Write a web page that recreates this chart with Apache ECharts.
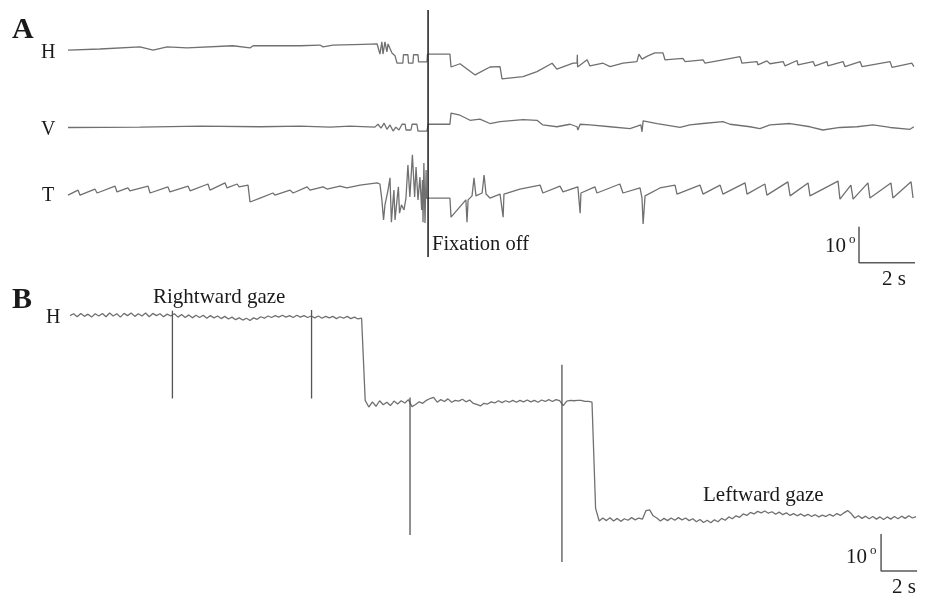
<!DOCTYPE html>
<html>
<head>
<meta charset="utf-8">
<script src="https://cdn.jsdelivr.net/npm/echarts@6/dist/echarts.min.js"></script>
<style>
  html, body { margin: 0; background: #fff; }
  #chart { width: 925px; height: 596px; }
</style>
</head>
<body>
<div id="chart"></div>
<script>
// ---- panel A: [time s, position deg] around each channel's own level
const hA = [[0,-0.6],[1.14,-0.3],[2.57,0.3],[3.04,-0.6],[3.54,0.3],[4.25,0],[5.89,0.6],[6.5,0],[6.61,0.6],[8.29,0.6],
  [9.0,0.8],[9.11,0.3],[9.46,0.8],[10.54,1.0],[11.04,1.1],[11.14,-1.7],[11.21,1.7],[11.25,-1.7],[11.32,1.7],[11.39,-1.1],
  [11.43,1.1],[11.57,-1.4],[11.68,-2.2],[11.75,-4.2],[11.96,-4.2],[11.98,-1.9],[12.14,-1.9],[12.16,-4.2],[12.32,-4.2],[12.34,-1.9],
  [12.5,-1.9],[12.52,-3.9],[12.82,-3.9],[12.84,-1.7],[13.64,-1.7],[13.68,-5.3],[14.0,-4.4],[14.54,-7.5],[15.07,-5.3],[15.43,-5.2],
  [15.5,-8.6],[16.25,-8.0],[16.75,-6.6],[17.29,-4.25],[17.46,-5.9],[18.04,-4.25],[18.18,-4.2],[18.19,-1.9],[18.2,-5.3],[18.54,-3.3],
  [18.64,-5.0],[19.11,-4.25],[19.36,-5.2],[19.82,-4.25],[20.32,-3.8],[20.39,-1.7],[20.46,-1.7],[20.5,-3.1],[20.71,-2.2],[20.96,-1.4],
  [21.25,-1.4],[21.32,-3.3],[21.96,-2.9],[22.04,-3.8],[22.68,-3.3],[22.75,-4.25],[23.39,-3.3],[24.0,-2.4],[24.07,-4.25],[24.61,-3.8],
  [24.64,-4.7],[24.96,-3.6],[25.07,-4.4],[25.54,-3.8],[25.61,-5.0],[26.04,-3.5],[26.07,-4.7],[26.61,-3.8],[26.68,-5.0],[27.11,-3.8],
  [27.14,-5.0],[27.68,-3.8],[27.75,-5.2],[28.29,-3.8],[28.36,-5.2],[29.36,-3.8],[29.43,-5.4],[30.14,-4.25],[30.21,-5.2]];

const vA = [[0,-0.1],[2.57,0],[4.71,0.3],[6.86,0.1],[8.29,0.3],[9.36,0],[10.07,0.3],[10.96,0],[11.07,0.8],[11.18,-0.3],
  [11.29,1.1],[11.39,-0.6],[11.5,0.6],[11.61,-1.1],[11.71,0],[11.82,-0.8],[11.93,0.8],[12.04,0.8],[12.07,-0.8],[12.25,-0.8],
  [12.29,0.8],[12.46,0.8],[12.5,-1.1],[12.82,-1.1],[12.86,0.8],[13.64,0.8],[13.68,3.9],[14.0,3.3],[14.36,1.9],[14.71,2.2],
  [15.07,1.0],[15.43,1.5],[16.25,2.1],[16.75,1.9],[16.96,0.6],[17.46,0.1],[17.93,0.8],[18.18,0.1],[18.21,-0.8],[18.29,0.8],
  [18.64,0.6],[19.36,0.1],[20.07,-0.4],[20.46,0.6],[20.5,-1.3],[20.54,1.75],[21.04,1.0],[21.86,-0.1],[22.21,0.6],[22.68,1.0],
  [23.39,1.5],[23.64,0.8],[24.36,0.1],[24.71,-0.4],[25.07,0.6],[25.79,1.0],[26.5,0.1],[26.96,-0.8],[27.57,-0.1],[28.18,0.1],
  [28.75,0.6],[29.36,-0.1],[30.07,-0.6],[30.21,0.1]];

const tA = [[0,-0.6],[0.36,0.8],[0.43,-0.6],[0.96,1.1],[1.04,0],[1.68,1.9],[1.75,0.3],[2.14,1.4],[2.21,0.6],[2.86,1.9],
  [2.93,0],[3.57,1.7],[3.64,0.3],[4.29,1.9],[4.36,0.6],[5.0,2.5],[5.07,0.8],[5.61,2.8],[5.68,1.4],[6.04,2.5],
  [6.11,1.7],[6.43,2.2],[6.5,-2.5],[6.86,-1.4],[7.32,0],[7.39,-0.6],[7.93,0.8],[8.04,0],[8.54,1.7],[8.64,0.8],
  [9.11,1.7],[9.25,1.1],[9.71,1.9],[9.96,1.4],[10.43,2.2],[10.5,1.7],[11.04,2.8],[11.14,2.5],[11.21,-1.9],[11.27,-7.5],
  [11.32,-3.3],[11.43,0.8],[11.5,4.2],[11.55,-8.1],[11.61,-1.9],[11.64,0.8],[11.68,-7.5],[11.75,-1.9],[11.8,1.7],[11.84,-5.6],
  [11.91,-3.3],[12.0,-4.7],[12.07,-1.4],[12.14,7.8],[12.21,-1.1],[12.3,10.6],[12.38,-1.1],[12.43,7.2],[12.5,-1.9],[12.57,4.4],
  [12.63,-4.7],[12.66,3.6],[12.68,-8.1],[12.71,8.3],[12.75,-8.3],[12.79,6.4],[12.8,-1.4],[13.64,-1.4],[13.68,-6.7],[14.21,-1.9],
  [14.25,-8.1],[14.29,-1.9],[14.43,-0.8],[14.5,4.2],[14.57,-0.8],[14.79,0],[14.86,5.0],[14.93,-0.3],[15.07,-1.4],[15.43,-0.3],
  [15.5,-0.3],[15.54,-6.7],[15.57,-0.3],[16.14,1.1],[16.86,2.2],[16.96,0],[17.57,1.9],[17.68,0.3],[18.21,1.7],[18.29,-5.6],
  [18.32,0],[18.82,1.7],[18.89,0],[19.71,2.5],[19.82,0],[20.43,1.4],[20.5,-1.4],[20.54,-8.6],[20.61,-0.8],[21.14,1.4],
  [21.68,2.2],[21.75,-0.3],[22.57,2.2],[22.68,-0.3],[23.29,2.2],[23.39,-0.3],[24.18,2.8],[24.25,-0.3],[24.89,2.5],[24.96,-0.6],
  [25.71,3.1],[25.79,-0.8],[26.43,2.8],[26.5,-0.8],[27.5,3.3],[27.57,-1.7],[27.96,2.2],[28.04,-1.7],[28.57,2.8],[28.64,-1.4],
  [29.39,2.8],[29.46,-1.4],[30.11,3.1],[30.18,-1.4]];

const fixationOff = 12.86; // s

// ---- panel B: horizontal position (deg), one sample every 0.2 s
const bStep = 0.2;
const bH = [
  0.1,0.6,-0.2,0.7,-0.1,0.5,-0.3,0.6,0.0,0.7,
  -0.2,0.8,0.0,0.6,-0.3,0.7,0.1,0.8,-0.1,0.6,
  0.0,0.8,-0.2,0.7,0.1,0.6,-0.2,0.5,0.0,0.6,
  -0.3,0.4,-0.4,0.3,-0.5,0.2,-0.4,0.2,-0.6,0.1,
  -0.5,0.0,-0.7,-0.1,-0.8,-0.3,-1.0,-0.5,-1.1,-0.6,
  -1.2,-0.5,-0.9,-0.2,-0.6,0.0,-0.4,0.1,-0.3,0.2,
  -0.3,0.1,-0.4,0.2,-0.3,0.1,-0.4,0.0,-0.5,0.0,
  -0.6,-0.1,-0.5,-0.1,-0.7,-0.2,-0.6,-0.1,-0.7,-0.3,
  -0.8,-0.6,-22.8,-24.6,-23.2,-24.4,-22.9,-24.0,-23.3,-24.2,
  -23.0,-23.8,-22.9,-23.5,-22.6,-24.5,-23.9,-23.2,-23.6,-22.8,
  -22.3,-22.0,-23.3,-22.6,-23.1,-22.4,-23.3,-22.8,-23.0,-22.5,
  -23.2,-22.7,-23.6,-23.9,-24.3,-23.6,-23.8,-23.2,-23.5,-22.9,
  -23.4,-22.9,-23.3,-22.8,-23.3,-22.8,-23.2,-22.7,-23.2,-22.8,
  -23.3,-22.7,-23.1,-22.6,-23.1,-22.6,-22.9,-24.2,-23.0,-22.8,
  -22.9,-22.8,-22.8,-23.1,-23.1,-23.3,-52.0,-55.4,-54.6,-55.3,
  -54.5,-55.4,-54.7,-55.5,-54.8,-55.2,-54.5,-55.1,-54.6,-54.9,
  -52.6,-52.4,-54.0,-54.6,-55.4,-54.7,-55.3,-54.6,-55.2,-54.5,
  -55.1,-54.6,-55.3,-54.8,-55.6,-55.0,-55.8,-55.2,-55.9,-55.1,
  -55.6,-54.7,-55.2,-54.3,-54.8,-54.0,-54.4,-53.5,-53.9,-53.1,
  -53.5,-52.8,-53.2,-52.7,-53.3,-52.9,-53.6,-53.0,-53.7,-53.2,
  -53.9,-53.4,-54.0,-53.5,-54.1,-53.6,-54.2,-53.7,-54.3,-53.8,
  -54.2,-53.6,-54.1,-53.4,-53.9,-53.2,-52.6,-53.4,-54.6,-54.0,
  -54.7,-54.1,-54.8,-54.2,-54.9,-54.3,-55.0,-54.3,-54.9,-54.2,
  -54.8,-54.1,-54.7,-54.0,-54.6,-54.2
];
// saccade spikes in B: [time s, top deg, bottom deg]
const bSpikes = [[5.69, 1.4, -22.3], [13.42, 1.6, -22.3], [18.89, -22.0, -59.2], [27.33, -13.2, -66.5]];

const scaleDeg = 10;
const scaleSec = 2;

// layout (not data)
const offA = { H: 40.3, V: 18.3, T: 0 };
const barA = [28.25, -19.4];   // corner of scale bar A
const barB = [45.06, -68.9];   // corner of scale bar B
const traceColor = '#707070';
const serif = '"Liberation Serif", "DejaVu Serif", serif';

function shift(list, off) {
  return list.map(p => [p[0], p[1] + off]);
}
function scaleBar(c) {
  return [[c[0], c[1] + scaleDeg], [c[0], c[1]], [c[0] + scaleSec, c[1]]];
}
function trace(data, idx, color, width) {
  return {
    type: 'line', xAxisIndex: idx, yAxisIndex: idx, data: data,
    showSymbol: false, symbol: 'none', silent: true,
    lineStyle: { color: color || traceColor, width: width || 1.3 }
  };
}
function txt(x, y, s, size, weight, align) {
  return {
    type: 'text', x: x, y: y, silent: true,
    style: {
      text: s, fill: '#1a1a1a', textAlign: align || 'left', textVerticalAlign: 'middle',
      font: (weight || 'normal') + ' ' + size + 'px ' + serif
    }
  };
}

let series = [
  trace(shift(hA, offA.H), 0),
  trace(shift(vA, offA.V), 0),
  trace(shift(tA, offA.T), 0),
  trace([[fixationOff, 50.8], [fixationOff, -17.8]], 0, '#2a2a2a', 1.6),
  trace(scaleBar(barA), 0, '#5a5a5a', 1.5),
  trace(bH.map((v, i) => [+(i * bStep).toFixed(2), v]), 1),
  trace(scaleBar(barB), 1, '#5a5a5a', 1.5)
];
bSpikes.forEach(s => {
  series.push(trace([[s[0], s[1]], [s[0], s[2]]], 1, '#555', 1.3));
});

const chart = echarts.init(document.getElementById('chart'));
chart.setOption({
  animation: false,
  backgroundColor: '#fff',
  grid: [
    { left: 68, top: 5.8, width: 851.2, height: 266.4 },
    { left: 70, top: 290.1, width: 849.6, height: 303.4 }
  ],
  xAxis: [
    { type: 'value', gridIndex: 0, min: 0, max: 30.4, show: false },
    { type: 'value', gridIndex: 1, min: 0, max: 47.2, show: false }
  ],
  yAxis: [
    { type: 'value', gridIndex: 0, min: -22, max: 52, show: false },
    { type: 'value', gridIndex: 1, min: -75, max: 7, show: false }
  ],
  series: series,
  graphic: [
    txt(12, 30, 'A', 30, 'bold'),
    txt(41, 53, 'H', 20),
    txt(41, 130, 'V', 20),
    txt(42, 196, 'T', 20),
    txt(432, 245, 'Fixation off', 20.5),
    txt(825, 246, '10', 21),
    txt(849, 240, 'o', 13),
    txt(882, 279, '2 s', 21),
    txt(12, 300, 'B', 30, 'bold'),
    txt(46, 318, 'H', 20),
    txt(153, 297, 'Rightward gaze', 21),
    txt(703, 495, 'Leftward gaze', 21),
    txt(846, 557, '10', 21),
    txt(870, 551, 'o', 13),
    txt(892, 587, '2 s', 21)
  ]
});
</script>
</body>
</html>
